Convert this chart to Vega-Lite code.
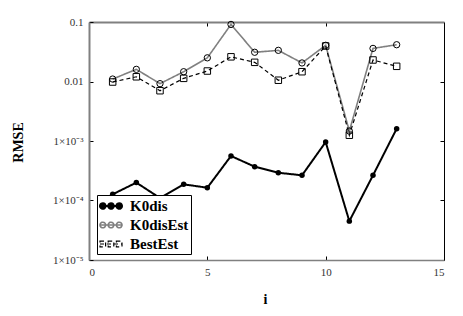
{
  "$schema": "https://vega.github.io/schema/vega-lite/v6.json",
  "autosize": "none",
  "width": 355,
  "height": 238,
  "padding": {"left": 89, "top": 22, "right": 19, "bottom": 56},
  "background": "white",
  "config": {
    "view": {"stroke": null},
    "font": "Liberation Serif",
    "axis": {"grid": false, "labelFont": "Liberation Serif", "labelFontSize": 11, "labelColor": "#333333", "tickColor": "black", "tickSize": -4, "titleFont": "Liberation Serif", "titleFontWeight": "bold", "titleFontSize": 14, "titleColor": "black"}
  },
  "data": {
    "values": [
      {"i": 1, "series": "K0dis", "v": 0.000127},
      {"i": 2, "series": "K0dis", "v": 0.000200},
      {"i": 3, "series": "K0dis", "v": 0.000110},
      {"i": 4, "series": "K0dis", "v": 0.000187},
      {"i": 5, "series": "K0dis", "v": 0.000164},
      {"i": 6, "series": "K0dis", "v": 0.000560},
      {"i": 7, "series": "K0dis", "v": 0.000370},
      {"i": 8, "series": "K0dis", "v": 0.000293},
      {"i": 9, "series": "K0dis", "v": 0.000265},
      {"i": 10, "series": "K0dis", "v": 0.000960},
      {"i": 11, "series": "K0dis", "v": 0.000045},
      {"i": 12, "series": "K0dis", "v": 0.000265},
      {"i": 13, "series": "K0dis", "v": 0.00161},
      {"i": 1, "series": "K0disEst", "v": 0.0110},
      {"i": 2, "series": "K0disEst", "v": 0.0160},
      {"i": 3, "series": "K0disEst", "v": 0.0092},
      {"i": 4, "series": "K0disEst", "v": 0.0146},
      {"i": 5, "series": "K0disEst", "v": 0.0250},
      {"i": 6, "series": "K0disEst", "v": 0.091},
      {"i": 7, "series": "K0disEst", "v": 0.031},
      {"i": 8, "series": "K0disEst", "v": 0.0334},
      {"i": 9, "series": "K0disEst", "v": 0.0205},
      {"i": 10, "series": "K0disEst", "v": 0.0406},
      {"i": 11, "series": "K0disEst", "v": 0.00147},
      {"i": 12, "series": "K0disEst", "v": 0.036},
      {"i": 13, "series": "K0disEst", "v": 0.0415},
      {"i": 1, "series": "BestEst", "v": 0.0098},
      {"i": 2, "series": "BestEst", "v": 0.0120},
      {"i": 3, "series": "BestEst", "v": 0.0070},
      {"i": 4, "series": "BestEst", "v": 0.0113},
      {"i": 5, "series": "BestEst", "v": 0.0150},
      {"i": 6, "series": "BestEst", "v": 0.026},
      {"i": 7, "series": "BestEst", "v": 0.021},
      {"i": 8, "series": "BestEst", "v": 0.0105},
      {"i": 9, "series": "BestEst", "v": 0.0146},
      {"i": 10, "series": "BestEst", "v": 0.0395},
      {"i": 11, "series": "BestEst", "v": 0.00125},
      {"i": 12, "series": "BestEst", "v": 0.023},
      {"i": 13, "series": "BestEst", "v": 0.018}
    ]
  },
  "resolve": {"axis": {"x": "independent", "y": "independent"}},
  "layer": [
    {
      "mark": {"type": "point", "opacity": 0},
      "encoding": {
        "x": {"field": "i", "type": "quantitative", "scale": {"domain": [0, 15], "nice": false},
              "axis": {"orient": "top", "values": [5, 10], "labels": false, "title": null, "domainColor": "#808080", "domainWidth": 2}},
        "y": {"field": "v", "type": "quantitative", "scale": {"type": "log", "domain": [0.00001, 0.1], "nice": false},
              "axis": {"orient": "right", "values": [0.0001, 0.001, 0.01], "labels": false, "title": null, "domainColor": "black", "domainWidth": 1}}
      }
    },
    {
      "mark": {"type": "line"},
      "encoding": {
        "x": {"field": "i", "type": "quantitative", "scale": {"domain": [0, 15], "nice": false},
              "axis": {"orient": "bottom", "values": [0, 5, 10, 15], "title": "i", "domainColor": "#808080", "domainWidth": 1.5, "labelPadding": 10, "titleX": 176, "titleY": 39, "titleBaseline": "middle"}},
        "y": {"field": "v", "type": "quantitative", "scale": {"type": "log", "domain": [0.00001, 0.1], "nice": false},
              "axis": {"orient": "left", "values": [0.00001, 0.0001, 0.001, 0.01, 0.1], "title": "RMSE", "domainColor": "#808080", "domainWidth": 2, "labelPadding": 10,
                       "labelExpr": "datum.value > 0.05 ? '0.1' : datum.value > 0.005 ? '0.01' : '1×10⁻' + ['', '¹', '²', '³', '⁴', '⁵'][-round(log(datum.value) / LN10)]",
                       "titleX": -71, "titleY": 120, "titleBaseline": "middle", "titleAlign": "center", "titleAngle": -90}},
        "color": {"field": "series", "type": "nominal",
                  "scale": {"domain": ["K0dis", "K0disEst", "BestEst"], "range": ["#000000", "#808080", "#000000"]},
                  "legend": {
                    "title": null, "orient": "none", "legendX": 8, "legendY": 173,
                    "fillColor": "white", "strokeColor": "black", "padding": 2,
                    "symbolSize": 256, "rowPadding": 2, "labelOffset": 13,
                    "labelFont": "Liberation Serif", "labelFontSize": 15, "labelFontWeight": "bold", "labelColor": "black",
                    "symbolType": "M-1,0L1.75,0",
                    "encode": {"symbols": {"update": {
                      "shape": {"signal": "datum.value === 'BestEst' ? 'M-1,0L1.75,0M-1,-0.35H-0.3V0.35H-1ZM0.025,-0.35H0.725V0.35H0.025ZM1.05,-0.35H1.75V0.35H1.05Z' : 'M-1,0L1.75,0M-0.3,0A0.35,0.35,0,1,1,-1,0A0.35,0.35,0,1,1,-0.3,0M0.725,0A0.35,0.35,0,1,1,0.025,0A0.35,0.35,0,1,1,0.725,0M1.75,0A0.35,0.35,0,1,1,1.05,0A0.35,0.35,0,1,1,1.75,0'"},
                      "fill": {"signal": "datum.value === 'K0dis' ? 'black' : 'transparent'"},
                      "stroke": {"value": "black"},
                      "strokeDash": {"value": [1, 0]},
                      "strokeWidth": {"signal": "datum.value === 'K0dis' ? 1.5 : 1"},
                      "opacity": {"value": 1}
                    }}}
                  }},
        "strokeDash": {"field": "series", "type": "nominal",
                       "scale": {"domain": ["K0dis", "K0disEst", "BestEst"], "range": [[1, 0], [1, 0], [4, 3]]}, "legend": null},
        "strokeWidth": {"field": "series", "type": "ordinal",
                        "scale": {"domain": ["K0dis", "K0disEst", "BestEst"], "range": [2, 1.2, 1.8]}, "legend": null}
      }
    },
    {
      "transform": [{"filter": "datum.series === 'K0dis'"}],
      "mark": {"type": "point", "shape": "circle", "filled": true, "color": "black", "opacity": 1, "size": 30},
      "encoding": {
        "x": {"field": "i", "type": "quantitative", "scale": {"domain": [0, 15], "nice": false}, "axis": null},
        "y": {"field": "v", "type": "quantitative", "scale": {"type": "log", "domain": [0.00001, 0.1], "nice": false}, "axis": null}
      }
    },
    {
      "transform": [{"filter": "datum.series === 'K0disEst'"}],
      "mark": {"type": "point", "shape": "circle", "filled": false, "stroke": "black", "strokeWidth": 1, "opacity": 1, "size": 40},
      "encoding": {
        "x": {"field": "i", "type": "quantitative", "scale": {"domain": [0, 15], "nice": false}, "axis": null},
        "y": {"field": "v", "type": "quantitative", "scale": {"type": "log", "domain": [0.00001, 0.1], "nice": false}, "axis": null}
      }
    },
    {
      "transform": [{"filter": "datum.series === 'BestEst'"}],
      "mark": {"type": "point", "shape": "square", "filled": false, "stroke": "black", "strokeWidth": 1, "opacity": 1, "size": 42},
      "encoding": {
        "x": {"field": "i", "type": "quantitative", "scale": {"domain": [0, 15], "nice": false}, "axis": null},
        "y": {"field": "v", "type": "quantitative", "scale": {"type": "log", "domain": [0.00001, 0.1], "nice": false}, "axis": null}
      }
    }
  ]
}
